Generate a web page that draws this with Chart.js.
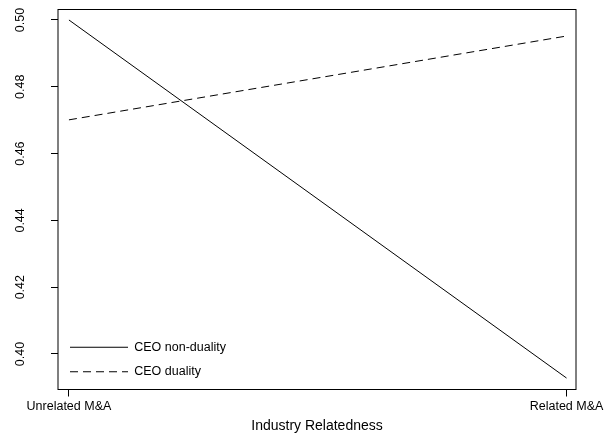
<!DOCTYPE html>
<html>
<head>
<meta charset="utf-8">
<script src="https://cdn.jsdelivr.net/npm/chart.js@4/dist/chart.umd.min.js"></script>
<style>
  html, body { margin: 0; padding: 0; background: #fff; }
  #wrap { width: 607px; height: 438px; position: relative; }
</style>
</head>
<body>
<div id="wrap"><canvas id="chart"></canvas></div>
<script>
// Predicted values at the two levels of industry relatedness
const categories = ['Unrelated M&A', 'Related M&A'];
const nonDuality = [0.500, 0.3928];
const duality = [0.4701, 0.4952];
const yTickValues = [0.40, 0.42, 0.44, 0.46, 0.48, 0.50];

const FONT = "'Liberation Sans', Arial, sans-serif";
const DASH = [8, 5];
const KEY_WIDTH = 58;

function toPoints(values) {
    return values.map(function(v, i) { return { x: i, y: v }; });
}

// Small line sample used as the legend symbol (keeps the dash pattern)
function keySymbol(dash) {
    const c = document.createElement('canvas');
    c.width = KEY_WIDTH;
    c.height = 3;
    const g = c.getContext('2d');
    g.strokeStyle = '#000';
    g.lineWidth = 1;
    g.setLineDash(dash);
    g.beginPath();
    g.moveTo(0, 1.5);
    g.lineTo(KEY_WIDTH, 1.5);
    g.stroke();
    return c;
}

// Plain black frame round the plotting region; legend nudged to the bottom corner
const boxPlugin = {
    id: 'plotBox',
    afterLayout: function(chart) {
        if (chart.legend) {
            chart.legend.top += 10;
            chart.legend.bottom += 10;
        }
    },
    afterDraw: function(chart) {
        const a = chart.chartArea;
        const ctx = chart.ctx;
        ctx.save();
        ctx.strokeStyle = '#000';
        ctx.lineWidth = 1;
        ctx.strokeRect(a.left, a.top, a.right - a.left, a.bottom - a.top);
        ctx.restore();
    }
};

new Chart(document.getElementById('chart'), {
    type: 'line',
    data: {
        datasets: [{
            label: 'CEO non-duality',
            data: toPoints(nonDuality),
            borderColor: '#000',
            backgroundColor: '#000',
            borderWidth: 1,
            pointRadius: 0,
            pointStyle: keySymbol([]),
            fill: false
        }, {
            label: 'CEO duality',
            data: toPoints(duality),
            borderColor: '#000',
            backgroundColor: '#000',
            borderWidth: 1,
            borderDash: DASH,
            pointRadius: 0,
            pointStyle: keySymbol(DASH),
            fill: false
        }]
    },
    options: {
        responsive: true,
        maintainAspectRatio: false,
        animation: false,
        events: [],
        layout: { padding: { top: 9.5, right: 31, left: 0, bottom: 0 } },
        plugins: {
            tooltip: { enabled: false },
            legend: {
                position: 'chartArea',
                align: 'end',
                labels: {
                    usePointStyle: true,
                    pointStyleWidth: KEY_WIDTH,
                    padding: 12,
                    color: '#000',
                    font: { family: FONT, size: 12.5 }
                }
            }
        },
        scales: {
            x: {
                type: 'linear',
                min: -0.022,
                max: 1.019,
                grid: { drawOnChartArea: false, drawTicks: true, tickLength: 7, color: '#000' },
                border: { display: false },
                ticks: {
                    color: '#000',
                    padding: 3,
                    maxRotation: 0,
                    autoSkip: false,
                    font: { family: FONT, size: 12.5 },
                    callback: function(v) { return categories[v]; }
                },
                afterBuildTicks: function(scale) {
                    scale.ticks = categories.map(function(c, i) { return { value: i }; });
                },
                afterFit: function(scale) {
                    scale.height = 48.5;
                    scale.paddingLeft = 0;
                    scale.paddingRight = 0;
                },
                title: {
                    display: true,
                    text: 'Industry Relatedness',
                    color: '#000',
                    padding: { top: 0, bottom: 3 },
                    font: { family: FONT, size: 14 }
                }
            },
            y: {
                min: 0.38937,
                max: 0.50314,
                grid: { drawOnChartArea: false, drawTicks: true, tickLength: 7, color: '#000' },
                border: { display: false },
                afterBuildTicks: function(scale) {
                    scale.ticks = yTickValues.map(function(v) { return { value: v }; });
                },
                ticks: {
                    color: '#000',
                    minRotation: 90,
                    maxRotation: 90,
                    crossAlign: 'center',
                    padding: 18,
                    font: { family: FONT, size: 12.5 },
                    callback: function(v) { return v.toFixed(2); }
                },
                afterFit: function(scale) {
                    scale.width = 58;
                    scale.paddingTop = 0;
                    scale.paddingBottom = 0;
                }
            }
        }
    },
    plugins: [boxPlugin]
});
</script>
</body>
</html>
